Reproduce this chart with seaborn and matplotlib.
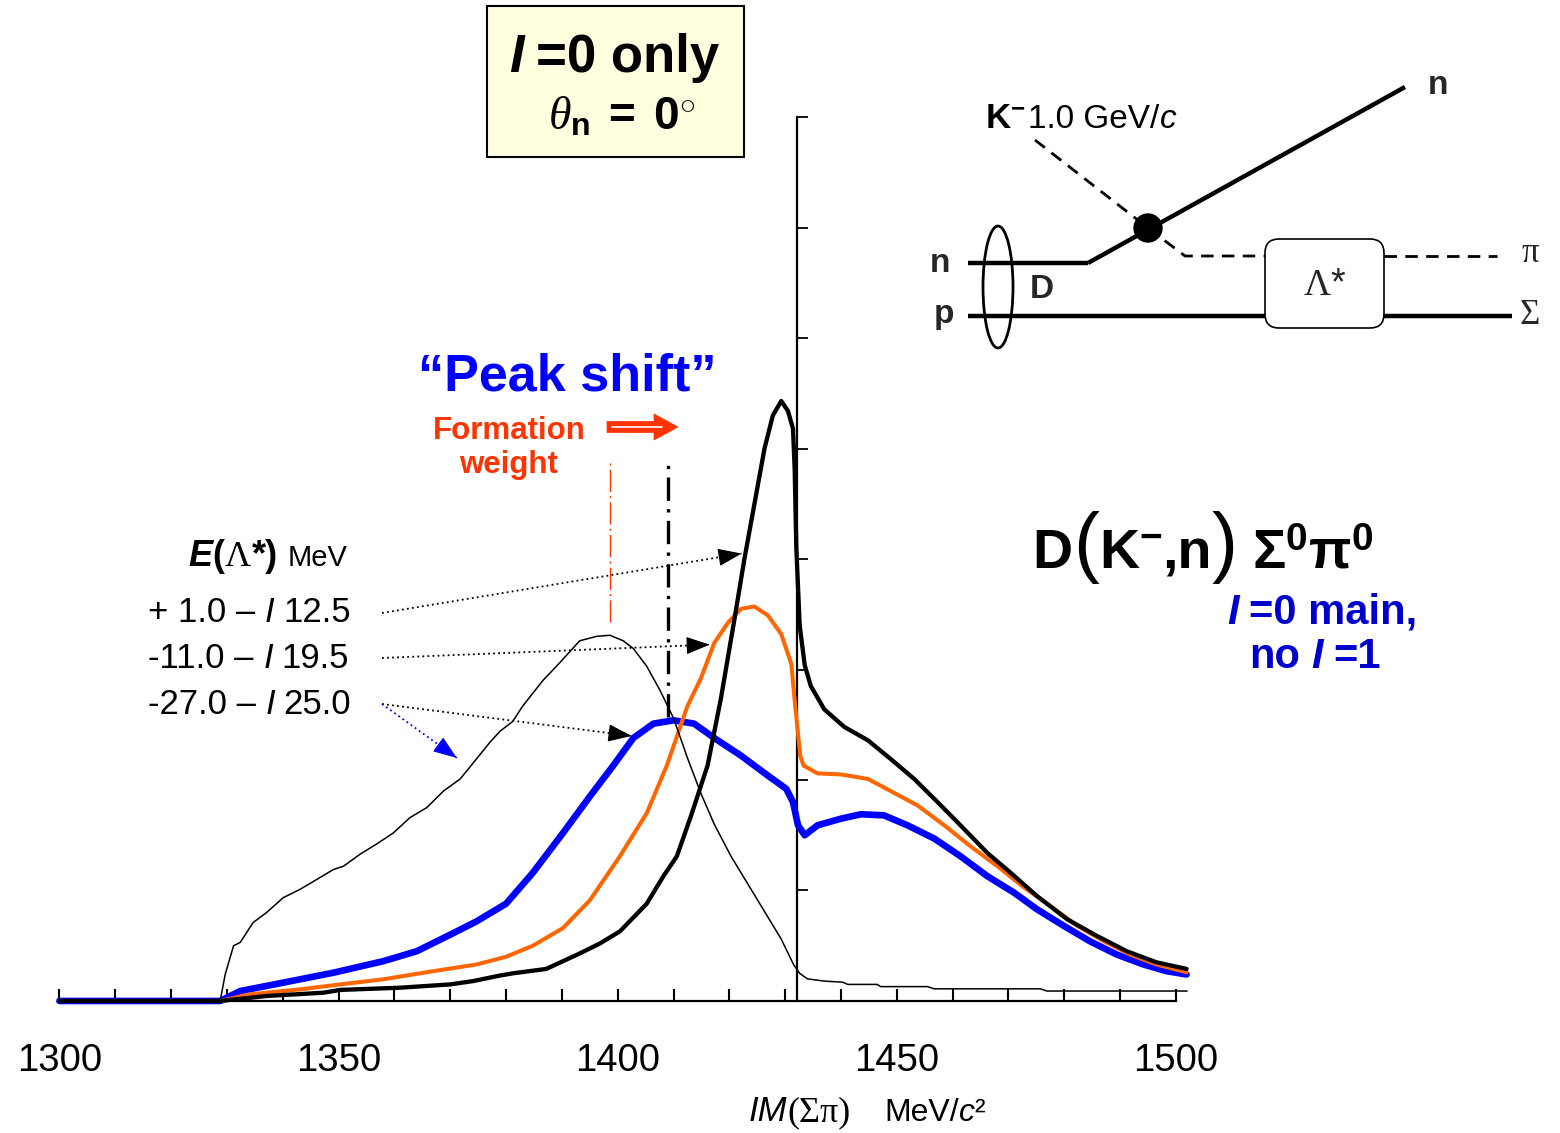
import numpy as np
import matplotlib
matplotlib.use("Agg")
import matplotlib.pyplot as plt
import seaborn as sns
from matplotlib.offsetbox import TextArea, HPacker, AnnotationBbox, DrawingArea
from matplotlib.patches import Rectangle, FancyBboxPatch, Ellipse, Circle, FancyArrow

# ---------------- data ----------------
# thin black: formation weight spectrum
mass_w = [1300, 1325, 1327.6, 1328.8, 1329.7, 1331.2, 1332.4, 1334.7, 1337.1, 1340.1, 1343.1, 1346.1,
          1349.1, 1350.9, 1353.9, 1356.8, 1359.8, 1362.8, 1365.8, 1368.8, 1371.8, 1374.7, 1377.1,
          1378.9, 1381.2, 1383.0, 1386.6, 1389.6, 1393.2, 1396.2, 1398.6, 1401.0, 1402.8, 1405.2,
          1407.6, 1410.0, 1412.5, 1414.9, 1417.3, 1420.3, 1423.3, 1426.3, 1429.3, 1431.5, 1432.6,
          1434.0, 1437.0, 1440.3, 1441.2, 1446.5, 1447.1, 1455.5, 1456.7, 1475.7, 1476.9, 1502.0]
yield_w = [0, 0, -0.015, 0, 0.24, 0.50, 0.53, 0.71, 0.80, 0.935, 1.01, 1.10,
           1.19, 1.22, 1.33, 1.42, 1.52, 1.66, 1.75, 1.90, 2.01, 2.19, 2.34,
           2.44, 2.53, 2.67, 2.90, 3.06, 3.26, 3.30, 3.31, 3.26, 3.19, 3.03,
           2.81, 2.56, 2.20, 1.88, 1.60, 1.31, 1.06, 0.81, 0.56, 0.33, 0.25,
           0.20, 0.18, 0.17, 0.15, 0.15, 0.13, 0.13, 0.11, 0.11, 0.09, 0.09]

# thick black: E = +1.0 - i12.5 MeV
mass_a = [1300, 1328.8, 1337.1, 1347.3, 1350.3, 1361.0, 1370.0, 1374.1, 1378.9, 1381.2, 1387.2,
          1393.2, 1396.8, 1400.4, 1405.2, 1408.2, 1410.6, 1413.1, 1416.1, 1418.5, 1420.9, 1422.7,
          1424.5, 1426.3, 1427.8, 1429.3, 1430.5, 1431.4, 1431.7, 1432.0, 1432.6, 1432.9, 1433.5,
          1434.6, 1437.0, 1440.6, 1444.8, 1448.9, 1453.1, 1457.3, 1461.4, 1466.2, 1470.4, 1475.1,
          1480.5, 1485.8, 1491.2, 1496.5, 1501.9]
yield_a = [0, 0, 0.045, 0.075, 0.10, 0.12, 0.15, 0.18, 0.23, 0.25, 0.29,
           0.43, 0.52, 0.63, 0.88, 1.13, 1.31, 1.67, 2.13, 2.74, 3.45, 4.00,
           4.50, 5.00, 5.30, 5.43, 5.34, 5.18, 4.82, 4.10, 3.40, 3.28, 3.04,
           2.85, 2.64, 2.48, 2.36, 2.19, 2.01, 1.80, 1.59, 1.34, 1.16, 0.95,
           0.74, 0.59, 0.45, 0.35, 0.29]

# orange: E = -11.0 - i19.5 MeV
mass_b = [1300, 1328.8, 1334.1, 1343.1, 1350.3, 1358.0, 1367.0, 1374.7, 1380.0, 1384.8, 1390.2,
          1395.0, 1400.4, 1405.2, 1408.8, 1412.5, 1414.9, 1417.3, 1419.7, 1422.1, 1424.5, 1426.9,
          1429.3, 1431.1, 1431.8, 1432.7, 1433.3, 1435.8, 1440.0, 1444.8, 1448.9, 1453.7, 1458.5,
          1463.2, 1468.0, 1472.7, 1477.5, 1482.3, 1487.1, 1491.8, 1496.5, 1501.9]
yield_b = [0, 0, 0.06, 0.105, 0.15, 0.196, 0.27, 0.33, 0.40, 0.50, 0.66,
           0.91, 1.31, 1.70, 2.13, 2.67, 2.92, 3.24, 3.42, 3.55, 3.57, 3.49,
           3.32, 3.05, 2.67, 2.22, 2.13, 2.06, 2.05, 2.01, 1.90, 1.77, 1.59,
           1.40, 1.22, 1.03, 0.86, 0.68, 0.54, 0.42, 0.33, 0.26]

# blue: E = -27.0 - i25.0 MeV
mass_c = [1300, 1328.8, 1332.4, 1340.1, 1349.1, 1358.0, 1364.0, 1370.0, 1374.7, 1380.0, 1384.8,
          1390.2, 1395.0, 1399.2, 1402.8, 1406.4, 1410.0, 1413.7, 1417.3, 1422.1, 1426.9, 1430.2,
          1431.4, 1432.3, 1433.5, 1435.8, 1440.0, 1443.6, 1447.7, 1451.9, 1456.7, 1461.4, 1466.2,
          1471.0, 1475.1, 1479.9, 1484.6, 1489.4, 1494.2, 1498.3, 1501.9]
yield_c = [0, 0, 0.09, 0.166, 0.256, 0.36, 0.45, 0.60, 0.72, 0.88, 1.16,
           1.52, 1.85, 2.13, 2.38, 2.51, 2.54, 2.51, 2.38, 2.22, 2.04, 1.92,
           1.80, 1.59, 1.50, 1.59, 1.65, 1.69, 1.68, 1.59, 1.47, 1.31, 1.13,
           0.98, 0.83, 0.68, 0.54, 0.42, 0.33, 0.27, 0.24]

pole_real = ["+ 1.0", "-11.0", "-27.0"]
pole_imag = ["12.5", "19.5", "25.0"]
x_major = [1300, 1350, 1400, 1450, 1500]
x_minor = list(range(1300, 1501, 10))
y_ticks = [1, 2, 3, 4, 5, 6, 7, 8]
threshold = 1432.1  # position of the vertical axis (KbarN threshold)

# ---------------- style ----------------
sns.set_theme(style="white")
plt.rcParams["font.family"] = ["Liberation Sans", "DejaVu Sans"]
plt.rcParams.update({
    "mathtext.fontset": "custom",
    "mathtext.rm": "Liberation Serif",
    "mathtext.it": "Liberation Serif:italic",
    "mathtext.bf": "Liberation Sans:bold",
    "mathtext.sf": "Liberation Sans",
})

BLUE = "#0000FF"
ORANGE = "#FF6600"
RED = "#FF3300"

fig = plt.figure(figsize=(15.6, 11.33), dpi=100)
ax = fig.add_axes([0.0309, 0.11165, 0.7444, 0.7899])
ax.set_facecolor("none")

sns.lineplot(x=mass_c, y=yield_c, ax=ax, color=BLUE, lw=4.8, sort=False, estimator=None, zorder=3)
sns.lineplot(x=mass_b, y=yield_b, ax=ax, color=ORANGE, lw=2.9, sort=False, estimator=None, zorder=4)
sns.lineplot(x=mass_a, y=yield_a, ax=ax, color="black", lw=3.1, sort=False, estimator=None, zorder=5)
sns.lineplot(x=mass_w, y=yield_w, ax=ax, color="black", lw=1.1, sort=False, estimator=None, zorder=6)

ax.set_xlim(1298, 1506)
ax.set_ylim(-0.05, 8.05)
for s in ["top", "right"]:
    ax.spines[s].set_visible(False)
ax.spines["left"].set_position(("data", threshold))
ax.spines["left"].set_bounds(0, 8)
ax.spines["bottom"].set_position(("data", 0))
ax.spines["bottom"].set_bounds(1300, 1500)
for s in ["left", "bottom"]:
    ax.spines[s].set_linewidth(1.6)
    ax.spines[s].set_color("black")
    ax.spines[s].set_zorder(2)
ax.set_xticks(x_major)
ax.set_xticklabels([str(v) for v in x_major])
ax.set_xticks(x_minor, minor=True)
ax.tick_params(axis="x", which="both", direction="in", length=9, width=1.5, color="black",
               bottom=True, pad=30, labelsize=27.5, labelcolor="black")
ax.set_yticks(y_ticks)
ax.set_yticklabels([])
ax.tick_params(axis="y", direction="in", length=8, width=1.3, color="black", left=True)
ax.set_xlabel("")
ax.set_ylabel("")
ax.grid(False)

# peak markers (dash-dot lines at the peaks)
xw = np.asarray(mass_w); yw = np.asarray(yield_w)
xc = np.asarray(mass_c); yc = np.asarray(yield_c)
pk_w = int(np.argmax(yw)); pk_c = int(np.argmax(yc))
ax.plot([xw[pk_w], xw[pk_w]], [yw[pk_w] + 0.12, 4.9], color=RED, lw=1.0,
        linestyle=(0, (16, 3, 1.5, 3)), zorder=2)
ax.plot([xc[pk_c] - 1.0, xc[pk_c] - 1.0], [yc[pk_c] + 0.03, 4.9], color="black", lw=2.4,
        linestyle=(0, (7, 2.5, 1, 2.5)), zorder=2)

# ---------------- overlay in reference pixel coordinates ----------------
ov = fig.add_axes([0, 0, 1, 1], zorder=5)
ov.set_xlim(0, 1560)
ov.set_ylim(1133, 0)
ov.axis("off")
ov.patch.set_alpha(0)

SANS = ["Liberation Sans", "DejaVu Sans"]
SERIF = ["Liberation Serif", "DejaVu Serif"]


def rich(parts, xy, align=(0.5, 0.5), color="black"):
    kids = []
    for item in parts:
        if isinstance(item, (int, float)):
            kids.append(DrawingArea(item, 1))
            continue
        s, props = item
        p = dict(color=color, fontfamily=SANS)
        p.update(props)
        kids.append(TextArea(s, textprops=p))
    box = HPacker(children=kids, align="baseline", pad=0, sep=0)
    ab = AnnotationBbox(box, xy, xycoords="data", box_alignment=align, frameon=False, pad=0)
    ov.add_artist(ab)


def to_px(x, y):
    """data point of the main axes -> overlay pixel coordinates"""
    return ov.transData.inverted().transform(ax.transData.transform((x, y)))


def dotted_arrow(p0, tip, color, back=0.0):
    p0 = np.asarray(p0, float)
    tip = np.asarray(tip, float)
    u = (tip - p0) / np.hypot(*(tip - p0))
    tip = tip - u * back
    ov.plot([p0[0], tip[0]], [p0[1], tip[1]], color=color, lw=1.3, linestyle=(0, (1, 1.8)), zorder=7)
    ov.annotate("", xy=tip, xytext=tip - u * 2, xycoords="data", textcoords="data",
                arrowprops=dict(arrowstyle="-|>,head_length=0.75,head_width=0.28", color=color,
                                lw=0.8, mutation_scale=20, shrinkA=0, shrinkB=0), zorder=8)


# title box
ov.add_patch(Rectangle((487, 6), 257, 151, fc="#FFFFE0", ec="black", lw=1.5, zorder=1))
rich([("I", dict(fontsize=38, fontweight="bold", fontstyle="italic")), 9,
      ("=0 only", dict(fontsize=38, fontweight="bold"))], (614, 58))
rich([(r"$\mathit{\theta}_{\mathbf{n}}\ \mathbf{=\ 0}^{\circ}$", dict(fontsize=33))], (622, 118))

# peak shift annotation
ov.text(567, 377, "\u201cPeak shift\u201d", color=BLUE, fontsize=37.5, fontweight="bold",
        ha="center", va="center")
ov.text(509, 448, "Formation\nweight", color=RED, fontsize=22.5, fontweight="bold",
        ha="center", va="center", multialignment="center", linespacing=1.15)
ov.add_patch(FancyArrow(607, 427, 71, 0, width=11, head_width=26, head_length=24,
                        length_includes_head=True, fc=RED, ec=RED, lw=0.5))
ov.plot([612, 662], [427, 427], color="white", lw=1.2)

# pole legend
rich([("E", dict(fontsize=26, fontweight="bold", fontstyle="italic")),
      ("(", dict(fontsize=26, fontweight="bold")),
      (r"$\mathrm{\Lambda}$", dict(fontsize=26)),
      ("*)", dict(fontsize=26, fontweight="bold")), 7,
      ("MeV", dict(fontsize=21))], (188, 557), align=(0, 0.5))
row_y = [613, 658, 704]
for re_, im_, yy in zip(pole_real, pole_imag, row_y):
    rich([(re_ + " \u2013", dict(fontsize=25)), 7, ("I", dict(fontsize=25, fontstyle="italic")), 6,
          (im_, dict(fontsize=25))], (148, yy), align=(0, 0.5))

# dotted arrows from the legend rows to the curves
targets = [(mass_a, yield_a, 1422.9), (mass_b, yield_b, 1417.2), (mass_c, yield_c, 1403.2)]
for (mx, my, tx), yy in zip(targets, row_y):
    ty = float(np.interp(tx, mx, my))
    dotted_arrow((382, yy), to_px(tx, ty), "black", back=4)
tx = 1373.5
dotted_arrow((382, 704), to_px(tx, float(np.interp(tx, mass_w, yield_w))), BLUE, back=16)

# reaction label
rich([("D", dict(fontsize=40, fontweight="bold")),
      ("(", dict(fontsize=56)),
      (r"$\mathbf{K}^{\mathbf{-}}$", dict(fontsize=40)),
      (",n", dict(fontsize=40, fontweight="bold")),
      (")", dict(fontsize=56)), 10,
      (r"$\mathbf{\Sigma}^{\mathbf{0}}\mathbf{\pi}^{\mathbf{0}}$", dict(fontsize=40))],
     (1203, 548))
rich([("I", dict(fontsize=30, fontweight="bold", fontstyle="italic")), 7,
      ("=0 main,", dict(fontsize=30, fontweight="bold"))], (1322, 613), color="#0000CC")
rich([("no", dict(fontsize=30, fontweight="bold")), 8,
      ("I", dict(fontsize=30, fontweight="bold", fontstyle="italic")), 7,
      ("=1", dict(fontsize=30, fontweight="bold"))], (1315, 657), color="#0000CC")

# x axis label
rich([("IM", dict(fontsize=25, fontstyle="italic")),
      ("(\u03a3\u03c0)", dict(fontsize=26, fontfamily=SERIF)), 24,
      ("MeV/", dict(fontsize=23)),
      ("c", dict(fontsize=23, fontstyle="italic")),
      ("\u00b2", dict(fontsize=23))], (867, 1112))

# ---------------- reaction diagram ----------------
LW = 3.2
ov.plot([968, 1088], [263, 263], color="black", lw=LW, solid_capstyle="butt")
ov.plot([1088, 1405], [263, 87], color="black", lw=LW, solid_capstyle="butt")
ov.plot([968, 1265], [316, 316], color="black", lw=LW, solid_capstyle="butt")
ov.plot([1384, 1512], [316, 316], color="black", lw=LW, solid_capstyle="butt")
dash = (0, (4.5, 3))
ov.plot([1035, 1148], [140, 228], color="black", lw=2.0, linestyle=dash)
ov.plot([1148, 1185, 1265], [228, 256, 256], color="black", lw=2.0, linestyle=dash)
ov.plot([1384, 1497], [256, 256], color="black", lw=2.0, linestyle=dash)
ov.add_patch(Circle((1148, 228), 14, fc="black", ec="black", zorder=4))
ov.add_patch(FancyBboxPatch((1265, 239), 119, 89, boxstyle="round,pad=0,rounding_size=14",
                            fc="white", ec="black", lw=1.2, zorder=4))
ov.add_patch(Ellipse((998, 287), 30, 122, fill=False, ec="black", lw=2.0, zorder=3))
ov.text(1325, 285, r"$\mathrm{\Lambda}$*", fontsize=27, ha="center", va="center", zorder=5)
for s, (px, py) in [("n", (940, 263)), ("p", (944, 314)), ("D", (1042, 290)), ("n", (1438, 86))]:
    ov.text(px, py, s, fontsize=24, fontweight="bold", ha="center", va="center")
ov.text(1530, 253, "\u03c0", fontsize=25, fontfamily=SERIF, ha="center", va="center")
ov.text(1530, 315, "\u03a3", fontsize=25, fontfamily=SERIF, ha="center", va="center")
rich([(r"$\mathbf{K}^{\mathbf{-}}$", dict(fontsize=25)), 2,
      ("1.0 GeV/", dict(fontsize=24)),
      ("c", dict(fontsize=24, fontstyle="italic"))], (985, 118), align=(0, 0.5))

fig.savefig("out.png", dpi=100)
